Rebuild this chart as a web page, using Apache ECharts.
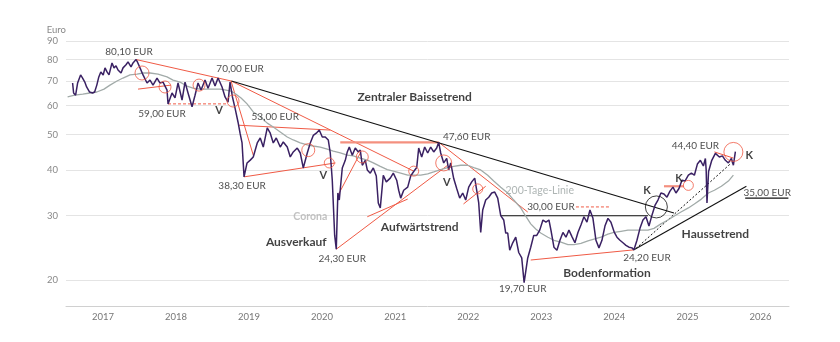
<!DOCTYPE html>
<html><head><meta charset="utf-8">
<script src="https://cdn.jsdelivr.net/npm/echarts@6/dist/echarts.min.js"></script>
<style>html,body{margin:0;padding:0;background:#fff}#c{width:840px;height:342px}</style>
</head><body><div id="c"></div>
<script>
const priceDates = ['2016-08-02','2016-08-07','2016-08-17','2016-08-27','2016-09-11','2016-09-21','2016-10-02','2016-10-11','2016-10-26','2016-11-10','2016-11-20','2016-12-01','2016-12-11','2016-12-21',
'2017-01-02','2017-01-11','2017-01-21','2017-01-31','2017-02-15','2017-02-25','2017-03-07','2017-03-17','2017-04-01','2017-04-11','2017-04-26','2017-05-06','2017-05-21','2017-05-31','2017-06-15','2017-06-22','2017-07-05','2017-07-20','2017-08-09','2017-08-24','2017-09-08','2017-09-28','2017-10-13','2017-10-28','2017-11-17','2017-11-22','2017-12-12','2017-12-27',
'2018-01-11','2018-01-31','2018-02-15','2018-03-02','2018-03-22','2018-04-06','2018-04-21','2018-05-06','2018-05-26','2018-06-10','2018-06-30','2018-07-15','2018-07-30','2018-08-19','2018-09-03','2018-09-18','2018-09-28','2018-10-03','2018-10-10','2018-10-23','2018-11-07','2018-11-17','2018-11-27','2018-12-02','2018-12-07','2018-12-22',
'2019-01-07','2019-01-22','2019-02-11','2019-02-26','2019-03-13','2019-04-02','2019-04-17','2019-05-02','2019-05-17','2019-06-06','2019-06-21','2019-07-11','2019-07-26','2019-08-10','2019-08-30','2019-09-14','2019-09-29','2019-10-19','2019-11-03','2019-11-18','2019-12-03','2019-12-18',
'2020-01-02','2020-01-17','2020-02-01','2020-02-11','2020-02-21','2020-02-26','2020-03-04','2020-03-12','2020-03-17','2020-03-20','2020-03-27','2020-04-11','2020-04-26','2020-05-06','2020-05-16','2020-05-31','2020-06-15','2020-06-30','2020-07-10','2020-07-20','2020-08-04','2020-08-14','2020-08-29','2020-09-13','2020-09-28','2020-10-08','2020-10-18','2020-11-02','2020-11-17','2020-12-07','2020-12-22',
'2021-01-08','2021-01-18','2021-01-28','2021-02-12','2021-03-04','2021-03-19','2021-04-03','2021-04-18','2021-04-28','2021-05-13','2021-05-28','2021-06-12','2021-06-27','2021-07-12','2021-07-27','2021-08-06','2021-08-16','2021-08-31','2021-09-15','2021-09-25','2021-10-05','2021-10-20','2021-11-04','2021-11-19','2021-12-04','2021-12-19',
'2022-01-03','2022-01-18','2022-02-02','2022-02-12','2022-02-22','2022-03-04','2022-03-14','2022-03-29','2022-04-13','2022-04-28','2022-05-13','2022-05-28','2022-06-12','2022-06-27','2022-07-07','2022-07-17','2022-07-27','2022-08-11','2022-08-26','2022-09-10','2022-09-25','2022-10-07','2022-10-25','2022-11-09','2022-11-24','2022-12-09','2022-12-24',
'2023-01-09','2023-01-24','2023-02-08','2023-02-18','2023-03-05','2023-03-20','2023-04-04','2023-04-19','2023-05-04','2023-05-19','2023-06-03','2023-06-18','2023-07-03','2023-07-18','2023-08-02','2023-08-17','2023-09-01','2023-09-16','2023-10-01','2023-10-16','2023-10-31','2023-11-15','2023-11-30','2023-12-15',
'2024-01-01','2024-01-14','2024-01-29','2024-02-13','2024-02-28','2024-03-14','2024-03-29','2024-04-08','2024-04-23','2024-05-08','2024-05-23','2024-06-07','2024-06-22','2024-07-07','2024-07-22','2024-08-06','2024-08-21','2024-09-05','2024-09-20','2024-10-05','2024-10-20','2024-11-04','2024-11-19','2024-12-04','2024-12-19',
'2025-01-05','2025-01-20','2025-02-04','2025-02-19','2025-03-06','2025-03-21','2025-03-31','2025-04-04','2025-04-08','2025-04-16','2025-05-02','2025-05-10','2025-05-20','2025-06-09','2025-06-24','2025-07-09','2025-07-24','2025-08-08','2025-08-18','2025-08-28'];
const priceValues = [69.1,64.9,64.0,69.1,72.7,71.3,69.5,67.4,65.3,64.9,65.3,68.2,71.8,74.1,
72.7,76.0,74.1,72.7,78.4,76.0,77.0,75.0,73.6,76.0,77.5,78.9,76.5,78.4,80.1,78.9,76.0,72.7,69.1,70.4,68.2,71.3,69.1,69.5,66.1,60.6,64.9,62.9,
69.1,62.1,69.5,64.9,59.5,64.0,69.1,66.1,70.4,66.9,71.3,67.8,71.3,67.4,63.3,61.3,69.5,70.0,63.3,59.0,54.0,50.4,47.4,42.55,38.3,41.8,
42.55,43.4,47.4,48.9,46.2,52.1,50.4,47.4,48.9,46.2,47.7,46.2,43.4,44.8,45.9,44.5,40.5,44.5,47.4,49.7,50.4,51.4,
49.2,49.2,48.3,44.5,37.5,32.5,26.5,24.3,30.4,34.6,33.1,40.5,42.5,44.8,46.2,43.9,45.9,44.8,45.3,41.2,42.5,40.0,39.2,40.5,38.5,32.5,31.5,38.7,37.1,38.0,39.2,
37.5,35.2,33.5,35.2,35.9,38.5,39.6,40.6,45.9,43.4,46.2,44.5,46.2,44.8,45.9,47.6,44.5,41.8,43.0,40.0,41.8,37.9,35.6,33.5,34.6,33.1,
35.9,37.1,38.0,35.2,32.5,27.0,31.1,33.1,33.7,34.6,34.8,33.5,30.0,29.2,26.9,26.9,24.15,25.3,26.2,23.8,23.0,19.7,23.0,24.6,26.5,26.5,27.4,
29.2,28.8,29.2,27.4,24.6,24.15,25.7,27.0,26.2,27.4,26.3,25.3,27.0,28.3,29.8,28.8,31.1,29.5,25.7,24.5,25.7,28.1,29.5,28.8,
27.0,26.2,25.7,25.3,24.9,24.6,24.5,24.2,25.7,27.7,29.2,29.8,28.1,30.1,32.0,33.1,34.6,34.4,33.7,35.0,35.9,34.6,35.6,37.5,37.3,
38.7,39.2,38.7,41.5,42.5,41.0,43.0,40.0,32.5,39.6,42.5,43.0,44.4,43.4,43.7,42.5,41.8,43.0,41.2,44.9];

const smaDates = ['2016-07-08','2016-08-13','2016-09-22','2016-10-27','2016-12-01','2017-01-06','2017-02-05','2017-03-12','2017-04-11','2017-05-16','2017-06-20','2017-07-20','2017-08-24','2017-10-03','2017-11-17','2017-12-17',
'2018-01-21','2018-02-25','2018-03-27','2018-05-01','2018-06-05','2018-07-10','2018-08-09','2018-09-08','2018-10-03','2018-10-28','2018-11-22','2018-12-22',
'2019-01-22','2019-02-26','2019-04-02','2019-05-02','2019-06-06','2019-07-11','2019-08-10','2019-09-14','2019-10-19','2019-11-18','2019-12-23',
'2020-01-27','2020-02-26','2020-04-01','2020-05-06','2020-06-05','2020-07-10','2020-08-14','2020-09-13','2020-10-18','2020-11-22','2020-12-22',
'2021-01-28','2021-03-04','2021-04-03','2021-05-08','2021-06-12','2021-07-12','2021-08-16','2021-09-20','2021-10-20','2021-11-24','2021-12-29',
'2022-01-28','2022-03-04','2022-04-08','2022-05-08','2022-06-12','2022-07-17','2022-08-16','2022-09-20','2022-10-15','2022-11-09','2022-12-04','2022-12-29',
'2023-02-03','2023-03-05','2023-04-09','2023-05-14','2023-06-13','2023-07-18','2023-08-22','2023-09-21','2023-10-26','2023-11-30','2023-12-30',
'2024-02-03','2024-03-09','2024-04-08','2024-05-14','2024-06-17','2024-07-17','2024-08-21','2024-09-25','2024-10-25','2024-11-29',
'2025-01-05','2025-02-04','2025-03-11','2025-04-15','2025-05-15','2025-06-19','2025-07-24','2025-08-18'];
const smaValues = [63.3,64.0,64.4,64.9,65.3,66.5,68.2,70.0,71.3,72.7,73.1,73.6,73.6,73.1,71.8,70.4,
69.5,67.8,66.9,66.5,66.5,66.5,66.5,66.1,65.7,64.4,62.9,60.6,
57.6,55.9,53.7,52.4,50.8,49.2,48.3,47.4,46.8,46.5,46.2,
45.6,45.0,44.5,43.9,43.7,43.1,42.55,41.8,40.9,40.1,39.7,
39.2,38.7,38.7,38.7,39.0,39.5,40.1,40.6,40.9,41.2,41.2,
40.6,40.0,38.7,37.3,35.9,34.6,33.1,31.5,29.9,28.5,27.6,26.9,
26.2,25.7,25.4,25.0,25.0,25.2,25.6,25.9,26.2,26.7,27.0,
27.2,27.4,27.4,27.4,27.4,27.7,28.5,29.2,29.9,30.7,
31.5,32.3,33.3,34.6,35.2,36.1,37.3,38.7];

const yTicks = [20,30,40,50,60,70,80,90];
const yearTicks = ['2017-01-01','2018-01-01','2019-01-01','2020-01-01','2021-01-01','2022-01-01','2023-01-01','2024-01-01','2025-01-01','2026-01-01'];
const xRange = ['2016-06-30','2026-05-23'];

const redLines = [
  [['2017-06-15',80.1],['2018-10-03',70.0]],
  [['2018-10-03',70.0],['2021-04-03',39.7]],
  [['2018-10-03',70.0],['2019-01-22',43.9]],
  [['2018-11-07',53.0],['2020-02-11',51.4]],
  [['2018-12-07',38.3],['2020-03-08',41.8]],
  [['2017-06-25',66.5],['2017-12-07',68.2]],
  [['2021-08-06',47.6],['2022-10-25',30.7]],
  [['2020-03-22',34.2],['2020-07-10',44.5]],
  [['2020-03-12',24.3],['2021-09-20',41.2]],
  [['2020-08-14',29.8],['2021-03-04',33.3]],
  [['2021-12-08',32.3],['2022-03-29',36.1]],
  [['2022-11-09',22.7],['2024-04-08',24.2]],
  [['2025-05-15',44.8],['2025-08-18',43.1]]
];
const salmonLines = [
  [['2020-04-01',47.6],['2021-08-06',47.6]],
  [['2024-09-05',36.1],['2024-12-14',36.1]]
];
const redDashed = [
  [['2017-11-22',60.6],['2018-09-12',60.6]],
  [['2023-06-23',31.7],['2023-12-15',31.7]]
];
const blackLines = [
  [['2018-10-05',70.0],['2024-10-25',30.5]],
  [['2022-06-12',30.0],['2024-06-17',30.0]],
  [['2024-04-08',24.2],['2025-10-22',36.1]],
  [['2025-10-16',33.5],['2026-05-20',33.5]]
];
const blackDashed = [
  [['2024-04-18',24.4],['2025-08-08',41.8]]
];
const redCircles = [
  ['2017-07-15',73.6,14],['2017-11-07',67.4,12],['2018-04-26',68.2,12],['2018-10-13',61.7,12],
  ['2019-10-24',45.3,13],['2020-02-06',41.8,10],['2020-07-20',43.4,12],['2021-04-03',39.7,10],
  ['2021-08-31',41.8,16],['2022-02-17',35.5,10],['2025-01-05',36.3,10],['2025-08-18',44.8,19]
];
const blackCircles = [['2024-07-29',31.7,22]];

const priceLabels = [
  ['2017-05-11',84.0,'80,10 EUR'],['2018-11-17',75.5,'70,00 EUR'],['2017-10-23',57.0,'59,00 EUR'],
  ['2019-05-12',55.9,'53,00 EUR'],['2018-11-27',36.1,'38,30 EUR'],['2021-12-24',49.2,'47,60 EUR'],
  ['2023-02-18',31.7,'30,00 EUR'],['2020-04-11',22.9,'24,30 EUR'],['2022-09-30',19.0,'19,70 EUR'],
  ['2024-06-12',23.0,'24,20 EUR'],['2025-02-09',46.5,'44,40 EUR'],['2026-02-03',34.6,'35,00 EUR']
];
const boldLabels = [
  ['2021-04-08',63.3,'Zentraler Baissetrend'],['2019-08-25',25.4,'Ausverkauf'],['2021-05-03',28.0,'Aufwärtstrend'],
  ['2023-11-25',20.9,'Bodenformation'],['2025-05-20',26.7,'Haussetrend']
];
const markLetters = [
  ['2018-08-04',58.3,'V'],['2020-01-07',38.7,'V'],['2021-09-15',37.0,'V'],
  ['2024-06-12',35.2,'K'],['2024-11-19',37.8,'K'],['2025-11-05',43.9,'K']
];
const greyLabels = [['2022-12-24',35.2,'200-Tage-Linie']];
const greyBoldLabels = [['2019-11-03',29.9,'Corona']];

const T = d => Date.parse(d + 'T00:00:00Z');
const FONT = 'Lato, "Noto Sans", sans-serif';
const RED = '#f05a45';
const series = [];
function seg(list, style, z){
  list.forEach(s => series.push({type:'line', data:s.map(p=>[T(p[0]),p[1]]), symbol:'none', silent:true, z:z,
    lineStyle:style}));
}
seg(redLines, {color:RED, width:1}, 3);
seg(salmonLines, {color:'#f4907f', width:2.2}, 3);
seg(redDashed, {color:RED, width:1, type:[3,2]}, 3);
seg(blackLines, {color:'#111', width:1.1}, 3);
seg(blackDashed, {color:'#111', width:1, type:[2,2]}, 3);

series.push({type:'line', data: smaDates.map((d,i)=>[T(d), smaValues[i]]), symbol:'none',
  lineStyle:{color:'#a2aba9', width:1.3}, z:4, silent:true});
series.push({type:'line', data: priceDates.map((d,i)=>[T(d), priceValues[i]]), symbol:'none',
  lineStyle:{color:'#3a2163', width:1.5}, z:5, silent:true});

function circles(list, color){
  series.push({type:'scatter', silent:true, z:6,
    data:list.map(c=>({value:[T(c[0]),c[1]], symbolSize:c[2]})),
    itemStyle:{color:'rgba(0,0,0,0)', borderColor:color, borderWidth:1}});
}
circles(redCircles, RED);
circles(blackCircles, '#111');

function texts(list, style){
  series.push({type:'scatter', silent:true, z:7, symbolSize:1,
    itemStyle:{color:'rgba(0,0,0,0)'},
    data:list.map(t=>({value:[T(t[0]),t[1]], name:t[2]})),
    label:Object.assign({show:true, position:'inside', formatter:'{b}', fontFamily:FONT,
      align:'center', verticalAlign:'middle'}, style)});
}
texts(priceLabels, {fontSize:10, color:'#222'});
texts(boldLabels, {fontSize:12, fontWeight:'bold', color:'#111'});
texts(markLetters, {fontSize:11, fontWeight:'bold', color:'#111'});
texts(greyLabels, {fontSize:10.5, color:'#9aa3a1'});
texts(greyBoldLabels, {fontSize:10.5, fontWeight:'bold', color:'#b3b3b3'});

const chart = echarts.init(document.getElementById('c'), null, {renderer:'canvas'});
chart.setOption({
  animation:false,
  backgroundColor:'#fff',
  grid:{left:66, right:51, top:41, bottom:36},
  xAxis:{type:'value', min:T(xRange[0]), max:T(xRange[1]),
    axisLine:{show:true, lineStyle:{color:'#d0d0d0', width:1}},
    axisTick:{show:false, customValues:yearTicks.map(T)},
    splitLine:{show:false},
    axisLabel:{customValues:yearTicks.map(T), color:'#777', fontSize:9.5, fontFamily:FONT, margin:6,
      formatter:v=>String(new Date(v).getUTCFullYear())}
  },
  yAxis:{type:'log', min:17, max:90,
    name:'Euro', nameLocation:'end', nameGap:6,
    nameTextStyle:{color:'#888', fontSize:9.5, fontFamily:FONT, align:'right', verticalAlign:'bottom'},
    axisLine:{show:false}, axisTick:{show:false, customValues:yTicks},
    axisLabel:{customValues:yTicks, color:'#888', fontSize:9.5, fontFamily:FONT, margin:8},
    splitLine:{show:true, lineStyle:{color:'#e4e4e4', width:1}}
  },
  series:series
});
</script></body></html>
